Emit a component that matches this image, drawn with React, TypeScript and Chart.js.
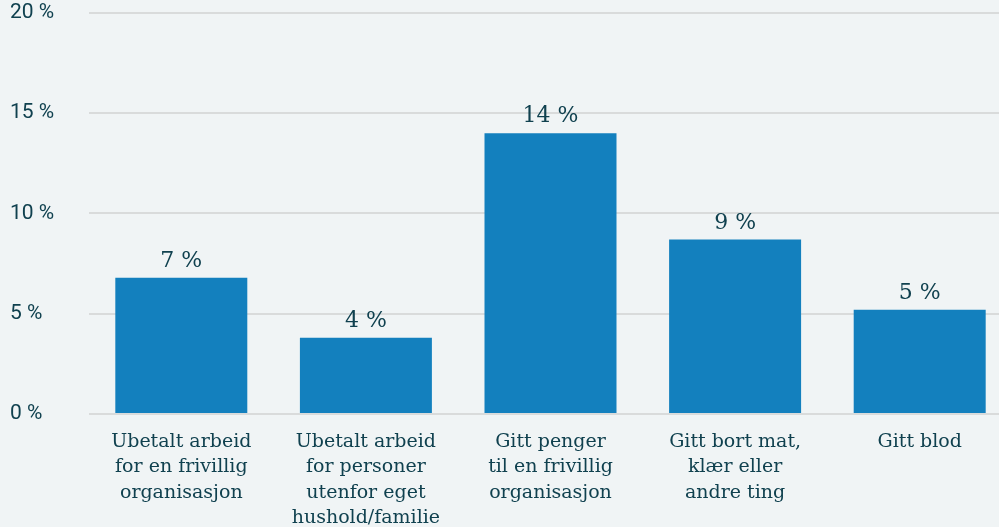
import React, { useEffect, useRef } from "react";
import { Chart, registerables } from "chart.js";

Chart.register(...registerables);

const categories: string[][] = [
  ["Ubetalt arbeid", "for en frivillig", "organisasjon"],
  ["Ubetalt arbeid", "for personer", "utenfor eget", "hushold/familie"],
  ["Gitt penger", "til en frivillig", "organisasjon"],
  ["Gitt bort mat,", "klær eller", "andre ting"],
  ["Gitt blod"],
];
const values: number[] = [6.8, 3.8, 14.0, 8.7, 5.2];
const yTicks: number[] = [0, 5, 10, 15, 20];

const TEXT = "#10414f";
const BAR = "#1380be";
const GRID = "#d9dbdb";
const BG = "#f0f4f5";

const dataLabels = {
  id: "dataLabels",
  afterDatasetsDraw(chart: any) {
    const ctx = chart.ctx;
    const meta = chart.getDatasetMeta(0);
    ctx.save();
    ctx.font = "22px 'DejaVu Serif'";
    ctx.fillStyle = TEXT;
    ctx.textAlign = "center";
    ctx.textBaseline = "alphabetic";
    meta.data.forEach((bar: any, i: number) => {
      ctx.fillText(Math.round(values[i]) + " %", bar.x, bar.y - 11);
    });
    ctx.restore();
  },
};

export default function App() {
  const ref = useRef<HTMLCanvasElement | null>(null);
  useEffect(() => {
    if (!ref.current) return;
    const chart = new Chart(ref.current, {
      type: "bar",
      data: {
        labels: categories,
        datasets: [
          {
            data: values,
            backgroundColor: BAR,
            borderWidth: 0,
            barPercentage: 0.715,
            categoryPercentage: 1,
          },
        ],
      },
      options: {
        animation: false,
        responsive: false,
        maintainAspectRatio: false,
        devicePixelRatio: 1,
        layout: { padding: { left: 10, right: 0, top: 0, bottom: 0 } },
        plugins: {
          legend: { display: false },
          tooltip: { enabled: false },
        },
        scales: {
          x: {
            grid: { display: false, drawTicks: false },
            border: { display: false },
            ticks: {
              color: TEXT,
              font: { family: "'DejaVu Serif'", size: 19, lineHeight: 1.34 },
              padding: 15,
              maxRotation: 0,
              autoSkip: false,
            },
            afterFit: (scale: any) => {
              scale.height = 540 - 414;
            },
          },
          y: {
            min: 0,
            max: 20,
            afterBuildTicks: (scale: any) => {
              scale.ticks = yTicks.map((v) => ({ value: v }));
            },
            grid: { color: GRID, lineWidth: 2, drawTicks: false },
            border: { display: false },
            ticks: {
              color: TEXT,
              crossAlign: "far",
              font: { family: "Roboto", size: 21, lineHeight: 0.95 },
              callback: (v: any) => v + " %",
            },
            afterFit: (scale: any) => {
              scale.width = 79;
            },
          },
        },
      },
      plugins: [dataLabels],
    });
    return () => chart.destroy();
  }, []);

  return (
    <div
      style={{
        position: "fixed",
        left: 0,
        top: 0,
        width: 999,
        height: 527,
        overflow: "hidden",
        background: BG,
      }}
    >
      <canvas ref={ref} width={1012} height={540} style={{ display: "block" }} />
    </div>
  );
}
